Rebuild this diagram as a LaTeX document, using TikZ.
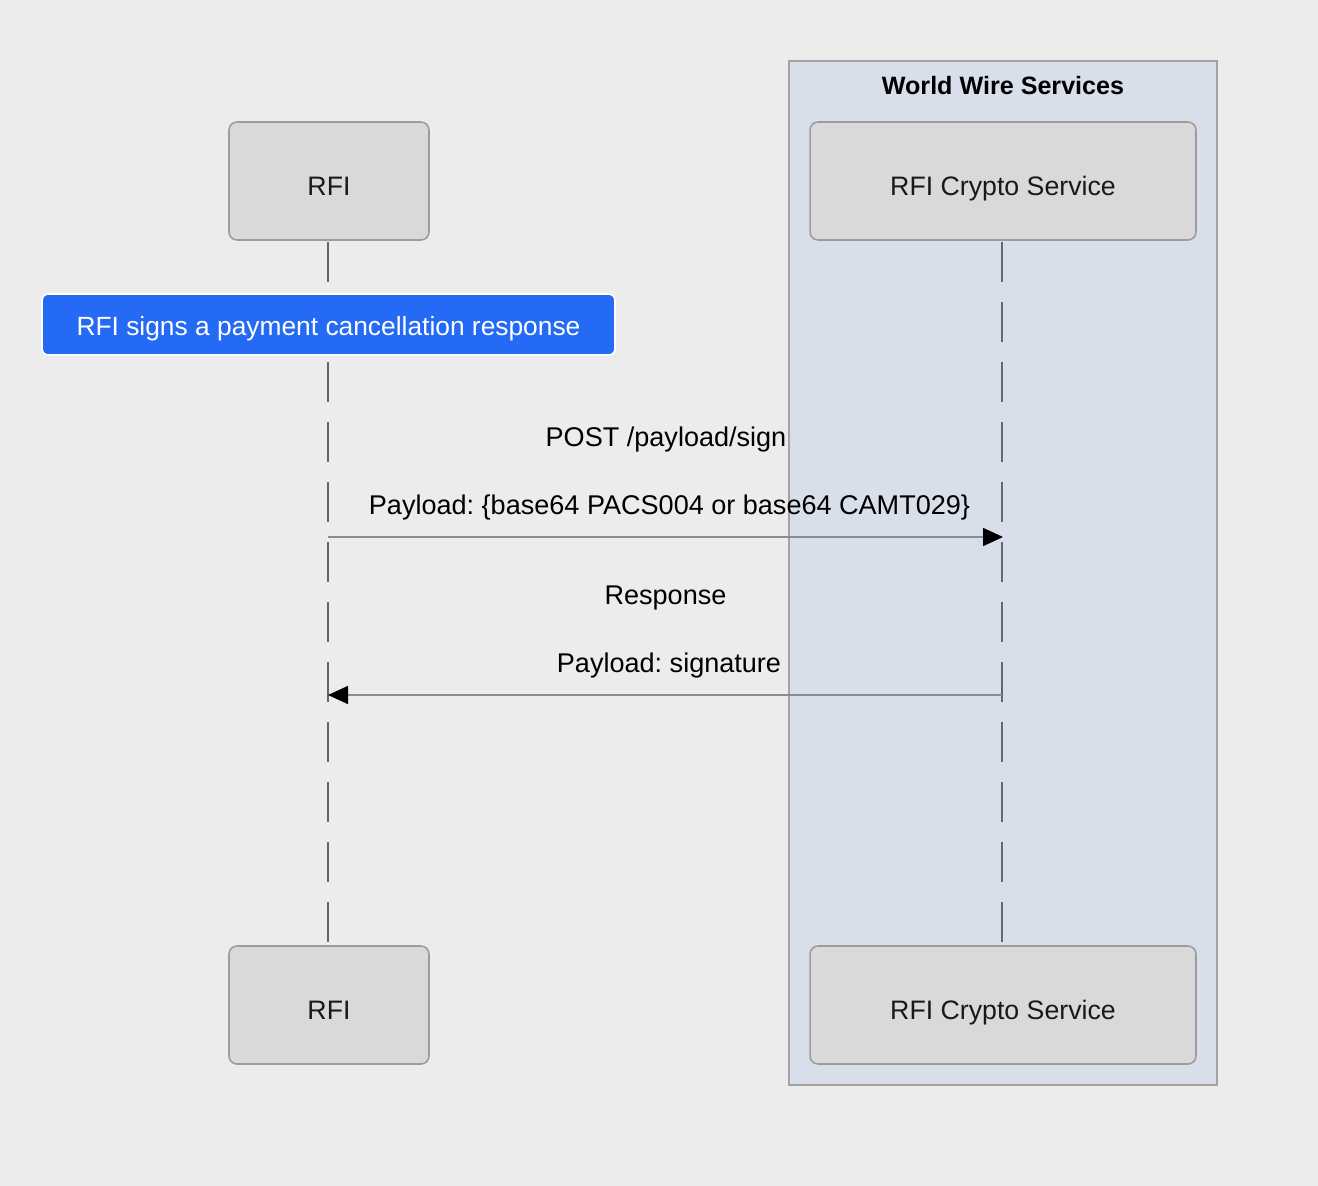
\documentclass[tikz,border=0pt]{standalone}
\usepackage{fontspec}
\setmainfont{Liberation Sans}
\usetikzlibrary{arrows.meta}
\frenchspacing
\definecolor{bgc}{HTML}{ECECEC}
\definecolor{boxfill}{HTML}{D9D9D9}
\definecolor{boxdraw}{HTML}{9C9C9C}
\definecolor{grpfill}{HTML}{D8DFEB}
\definecolor{grpdraw}{HTML}{A3A3A3}
\definecolor{notefill}{HTML}{246AF5}
\definecolor{lifec}{HTML}{666666}
\definecolor{msgc}{HTML}{8C8C8C}
\tikzset{
  actor/.style={draw=boxdraw, fill=boxfill, line width=0.9pt, rounded corners=0.16cm,
    minimum height=2.36cm, inner sep=0pt, font=\fontsize{15.2}{18}\selectfont, text=black!90,
    text height=16.6pt, text depth=0pt},
  notebox/.style={draw=white, fill=notefill, line width=1pt, rounded corners=0.12cm,
    minimum width=11.46cm, minimum height=1.22cm, inner sep=0pt,
    font=\fontsize{15}{18}\selectfont, text=white, text height=12.8pt, text depth=0pt},
  lifeline/.style={draw=lifec, line width=1.1pt, dash pattern=on 0.8cm off 0.4cm},
  msg/.style={draw=msgc, line width=0.9pt, -{Triangle[length=0.4cm,width=0.36cm,fill=black,color=black]}},
  msglabel/.style={font=\fontsize{15.4}{18}\selectfont, text height=0.716em, text depth=0pt, inner sep=0pt},
  grptitle/.style={font=\bfseries\fontsize{14.3}{17}\selectfont, text height=0.716em, text depth=0pt, inner sep=0pt}
}
\begin{document}
\begin{tikzpicture}[x=0.02cm,y=-0.02cm]
\fill[bgc] (0,0) rectangle (1318,1186);
\useasboundingbox (0,0) rectangle (1318,1186);
% group
\draw[grpdraw, fill=grpfill, line width=0.7pt] (789,61) rectangle (1217,1085);
\node[grptitle] (grp) at (1003,88) {World Wire Services};
% actors
\node[actor, minimum width=4cm] (rfiT) at (329,181) {RFI};
\node[actor, minimum width=7.72cm] (cryT) at (1003,181) {RFI Crypto Service};
\node[actor, minimum width=4cm] (rfiB) at (329,1005) {RFI};
\node[actor, minimum width=7.72cm] (cryB) at (1003,1005) {RFI Crypto Service};
% lifelines
\coordinate (rfiTop) at (328,242);
\coordinate (rfiBot) at (328,942);
\coordinate (cryTop) at (1002,242);
\coordinate (cryBot) at (1002,942);
\draw[lifeline] (rfiTop) -- (rfiBot);
\draw[lifeline] (cryTop) -- (cryBot);
% note
\node[notebox] (note) at (328.5,324.5) {RFI signs a payment cancellation response};
% messages
\coordinate (rfiM1) at (328,537);
\coordinate (cryM1) at (1003,537);
\coordinate (cryM2) at (1002,695);
\coordinate (rfiM2) at (328,695);
\draw[msg] (rfiM1) -- (cryM1);
\draw[msg] (cryM2) -- (rfiM2);
\node[msglabel] (l1) at (666,440) {POST /payload/sign};
\node[msglabel] (l2) at (669.5,508) {Payload: \{base64 PACS004 or base64 CAMT029\}};
\node[msglabel] (l3) at (665.5,598) {Response};
\node[msglabel] (l4) at (669,666) {Payload: signature};
\end{tikzpicture}
\end{document}
